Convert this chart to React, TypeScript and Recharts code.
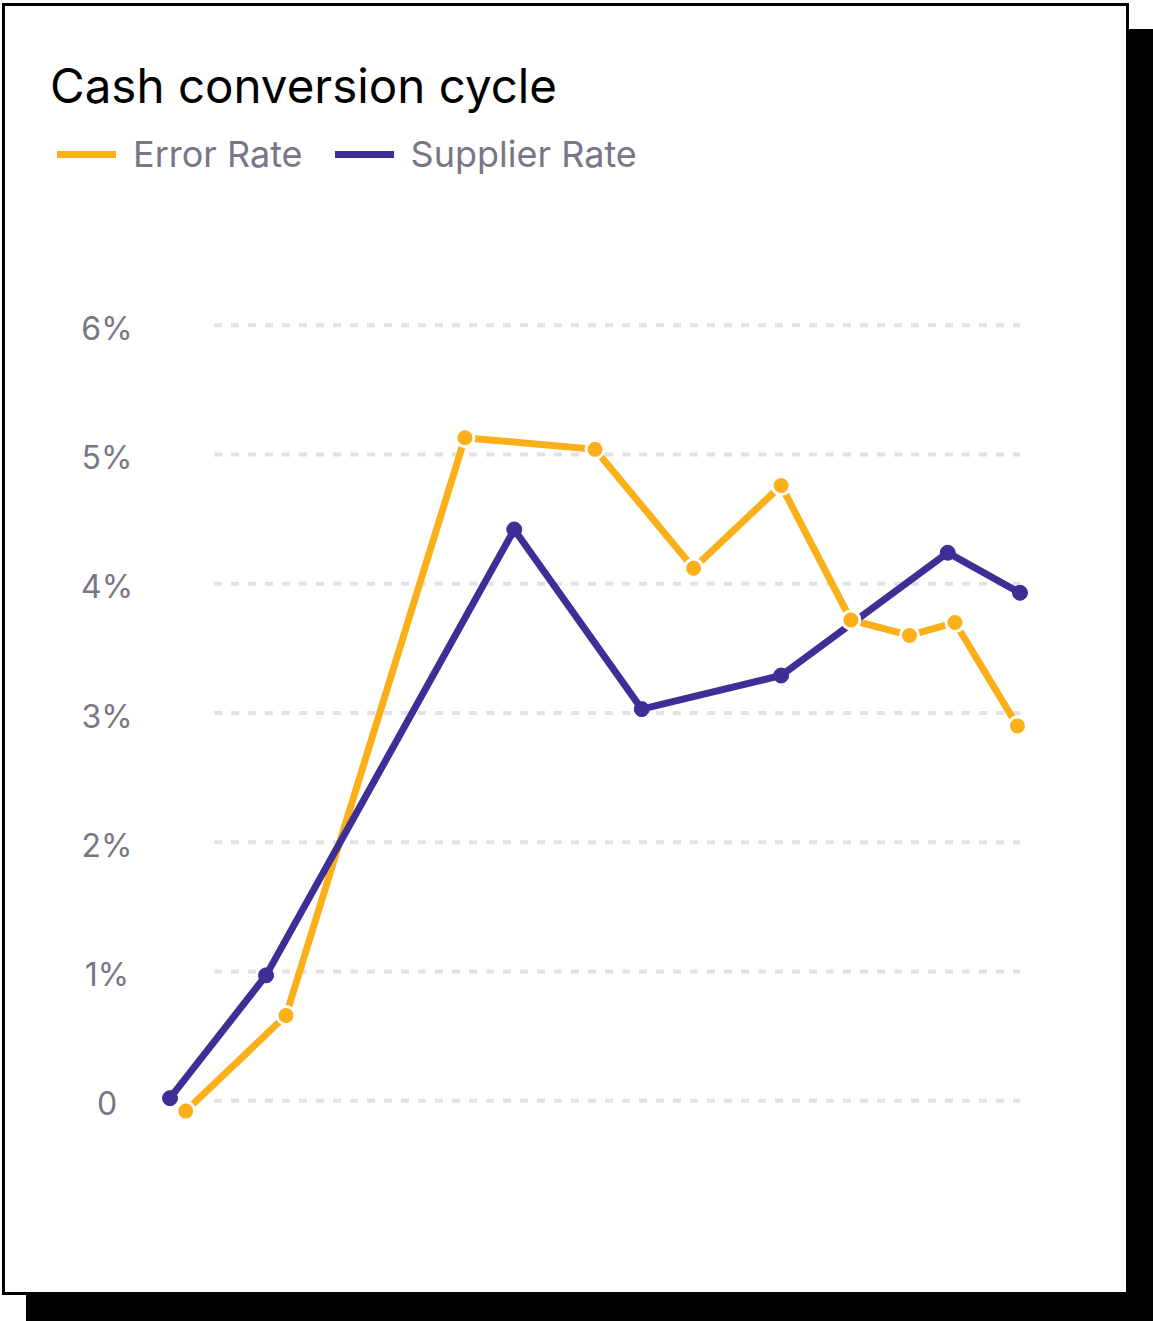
import { LineChart, Line, XAxis, YAxis, CartesianGrid } from 'recharts';

// series values (x = position along the period, 0..100)
const errorX = [1.85, 13.65, 34.7, 50, 61.6, 71.9, 80.1, 87, 92.35, 99.7];
const errorRate = [-0.08, 0.66, 5.13, 5.04, 4.12, 4.76, 3.72, 3.6, 3.7, 2.9];
const supplierX = [0, 11.3, 40.5, 55.5, 71.9, 91.5, 100];
const supplierRate = [0.02, 0.97, 4.42, 3.03, 3.29, 4.24, 3.93];
const yTicks = [0, 1, 2, 3, 4, 5, 6];

const ORANGE = '#FBAF19';
const PURPLE = '#3D2F96';
const GREY = '#787687';
const FONT = 'Inter, "Noto Sans", sans-serif';

const errorData = errorX.map((x, i) => ({ x, y: errorRate[i] }));
const supplierData = supplierX.map((x, i) => ({ x, y: supplierRate[i] }));

const legendItems = [
  { name: 'Error Rate', color: ORANGE },
  { name: 'Supplier Rate', color: PURPLE },
];

function YTick({ y, payload }: any) {
  const v = payload.value;
  return (
    <text x={107} y={y} dy={3} textAnchor="middle" dominantBaseline="central"
      fontSize={32} fill={GREY} fontFamily={FONT}>
      {v === 0 ? '0' : `${v}%`}
    </text>
  );
}

export default function App() {
  return (
    <div style={{ position: 'absolute', left: 0, top: 0, width: 1153, height: 1321, fontFamily: FONT }}>
      {/* card with hard black shadow */}
      <div style={{
        position: 'absolute', left: 2, top: 3, width: 1127, height: 1292, boxSizing: 'border-box',
        border: '3px solid #000', background: '#fff', boxShadow: '24px 26px 0 #000',
      }} />

      <div style={{ position: 'absolute', left: 50, top: 62, fontSize: 47.5, lineHeight: 1, color: '#000' }}>
        Cash conversion cycle
      </div>

      <div style={{ position: 'absolute', left: 57, top: 134, display: 'flex', alignItems: 'center', height: 40 }}>
        {legendItems.map((it, i) => (
          <div key={it.name} style={{ display: 'flex', alignItems: 'center', marginLeft: i ? 32 : 0 }}>
            <span style={{ width: 59, height: 7, background: it.color, display: 'inline-block' }} />
            <span style={{ marginLeft: 17, fontSize: 36, color: GREY }}>{it.name}</span>
          </div>
        ))}
      </div>

      <div style={{ position: 'absolute', left: 0, top: 0 }}>
        <LineChart width={1153} height={1321} margin={{ top: 196, right: 133, bottom: 91, left: 0 }}>
          <CartesianGrid x={214} width={806} vertical={false} syncWithTicks stroke="#E2E2E6"
            strokeWidth={4} strokeDasharray="8 9" />
          <XAxis type="number" dataKey="x" domain={[0, 100]} hide />
          <YAxis type="number" domain={[-1, 7]} ticks={yTicks} width={170}
            axisLine={false} tickLine={false} tick={<YTick />} />
          <Line data={errorData} dataKey="y" stroke={ORANGE} strokeWidth={7}
            dot={{ r: 9, fill: ORANGE, stroke: '#fff', strokeWidth: 3 }}
            activeDot={false} isAnimationActive={false} />
          <Line data={supplierData} dataKey="y" stroke={PURPLE} strokeWidth={7}
            dot={{ r: 7.5, fill: PURPLE, stroke: PURPLE, strokeWidth: 1 }}
            activeDot={false} isAnimationActive={false} />
        </LineChart>
      </div>
    </div>
  );
}
